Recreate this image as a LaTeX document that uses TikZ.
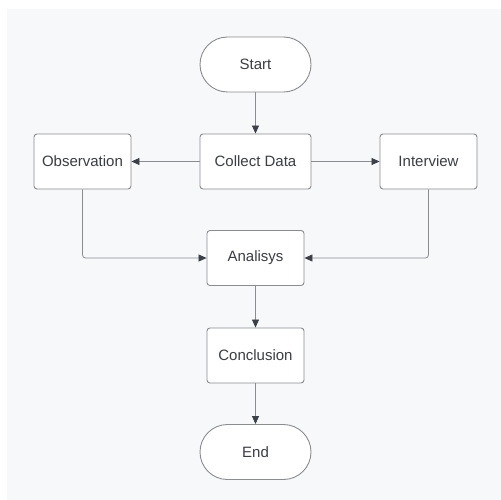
\documentclass[tikz,border=0pt]{standalone}
\usepackage{fontspec}
\setmainfont{Liberation Sans}
\usetikzlibrary{arrows.meta}
\definecolor{bgc}{HTML}{F7F8FA}
\definecolor{edgec}{HTML}{8A8C90}
\definecolor{tipc}{HTML}{3C4048}
\definecolor{txtc}{HTML}{3A3D42}
\begin{document}
\begin{tikzpicture}[x=1pt,y=-1pt,
  box/.style={draw=edgec,line width=0.9pt,fill=white,rounded corners=3pt,
    minimum width=97pt,minimum height=55pt,inner sep=0pt,
    font=\fontsize{15}{18}\selectfont,text=txtc},
  wide/.style={box,minimum width=111pt},
  term/.style={box,minimum width=111pt,rounded corners=27.5pt},
  conn/.style={draw=edgec,line width=0.8pt,
    -{Triangle[length=8pt,width=7pt,color=tipc]}}]
\useasboundingbox (0,0) rectangle (501,500);
\fill[white] (0,0) rectangle (501,500);
\fill[bgc] (7,9) rectangle (501,500);
\node[term] (start) at (255.5,64.5) {Start};
\node[wide] (collect) at (255.5,161.5) {Collect Data};
\node[box] (obs) at (82.5,161.5) {Observation};
\node[box] (int) at (428.5,161.5) {Interview};
\node[box] (ana) at (255.5,258) {Analisys};
\node[box] (con) at (255.5,355.5) {Conclusion};
\node[term] (end) at (255.5,452) {End};
\draw[conn] (start) -- (collect);
\draw[conn] (collect) -- (obs);
\draw[conn] (collect) -- (int);
\draw[conn,rounded corners=3pt] (obs.south) |- (ana.west);
\draw[conn,rounded corners=3pt] (int.south) |- (ana.east);
\draw[conn] (ana) -- (con);
\draw[conn] (con) -- (end);
\end{tikzpicture}
\end{document}
